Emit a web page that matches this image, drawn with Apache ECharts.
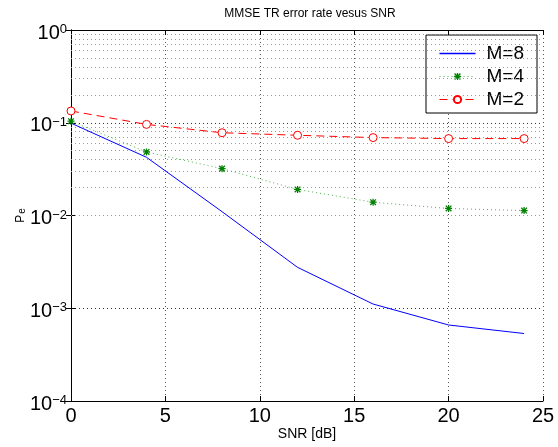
<!DOCTYPE html>
<html>
<head>
<meta charset="utf-8">
<script src="https://cdn.jsdelivr.net/npm/echarts@6/dist/echarts.min.js"></script>
<style>html,body{margin:0;padding:0;background:#fff;}#c{width:558px;height:447px;}</style>
</head>
<body>
<div id="c"></div>
<script>
const snr = [0, 4, 8, 12, 16, 20, 24];
const m8 = [0.099, 0.0424, 0.0110, 0.00276, 0.00111, 0.00066, 0.000534];
const m4 = [0.104, 0.0484, 0.032, 0.0191, 0.0139, 0.0119, 0.0113];
const m2 = [0.134, 0.096, 0.078, 0.0733, 0.0692, 0.0675, 0.0675];
const minorGrid = [2e-4,3e-4,4e-4,5e-4,6e-4,7e-4,8e-4,9e-4,
                   2e-3,3e-3,4e-3,5e-3,6e-3,7e-3,8e-3,9e-3,
                   2e-2,3e-2,4e-2,5e-2,6e-2,7e-2,8e-2,9e-2,
                   0.2,0.3,0.4,0.5,0.6,0.7,0.8,0.9];
const xTicks = [0, 5, 10, 15, 20, 25];

const FONT = 'Liberation Sans, Arial, sans-serif';
const star = 'path://M4.1,0L5.9,0L5.9,10L4.1,10Z M0,4.1L10,4.1L10,5.9L0,5.9Z M1.6,0.3L9.7,8.4L8.4,9.7L0.3,1.6Z M8.4,0.3L9.7,1.6L1.6,9.7L0.3,8.4Z';

const chart = echarts.init(document.getElementById('c'), null, {renderer: 'canvas'});
const pair = (ys) => snr.map((x, i) => [x, ys[i]]);

const option = {
  backgroundColor: '#fff',
  animation: false,
  textStyle: {fontFamily: FONT},
  title: {
    text: 'MMSE TR error rate vesus SNR',
    left: 305, top: 3, textAlign: 'center',
    textStyle: {fontSize: 12, fontWeight: 'normal', color: '#000', fontFamily: FONT}
  },
  grid: {left: 71, top: 30, right: 15, bottom: 46, containLabel: false, outerBoundsMode: 'none'},
  legend: {
    right: 21, top: 35, orient: 'vertical',
    backgroundColor: '#fff', borderColor: '#000', borderWidth: 1,
    padding: [9, 13, 4, 13], itemGap: 4, itemWidth: 36, itemHeight: 9,
    symbolKeepAspect: true,
    textStyle: {fontSize: 19, color: '#000', fontFamily: FONT, padding: [0, 0, 0, 6]},
    data: [
      {name: 'M=8', icon: 'path://M0,0L36,0L36,1.5L0,1.5Z',
       itemStyle: {color: '#0000ff', borderWidth: 0, opacity: 1}},
      {name: 'M=4', lineStyle: {width: 1}},
      {name: 'M=2', lineStyle: {width: 1}}
    ]
  },
  xAxis: [{
    type: 'value', min: 0, max: 25, interval: 5,
    name: 'SNR [dB]', nameLocation: 'middle', nameGap: 26, nameMoveOverlap: false,
    nameTextStyle: {fontSize: 14, color: '#000', fontFamily: FONT},
    axisLine: {lineStyle: {color: '#000', width: 1}},
    axisTick: {inside: true, length: 5, lineStyle: {color: '#000'}},
    axisLabel: {fontSize: 20, color: '#000', margin: 5, fontFamily: FONT,
      formatter: (v) => xTicks.includes(v) ? String(v) : ''},
    splitLine: {show: true, lineStyle: {color: '#555', type: [1, 3], width: 1}}
  }, {
    type: 'value', min: 0, max: 25, interval: 5, position: 'top',
    axisLine: {show: true, lineStyle: {color: '#000', width: 1}},
    axisTick: {inside: true, length: 5, lineStyle: {color: '#000'}},
    axisLabel: {show: false}, splitLine: {show: false}
  }],
  yAxis: [{
    type: 'log', logBase: 10, min: 1e-4, max: 1, splitNumber: 4,
    name: '{p|P}{e|e}', nameLocation: 'middle', nameGap: 44, nameRotate: 90, nameMoveOverlap: false,
    nameTextStyle: {
      rich: {
        p: {fontSize: 12, color: '#000', fontFamily: FONT, lineHeight: 12, verticalAlign: 'top'},
        e: {fontSize: 10, color: '#000', fontFamily: FONT, lineHeight: 10, verticalAlign: 'bottom', padding: [14, 0, 0, 1]}
      }
    },
    axisLine: {show: true, lineStyle: {color: '#000', width: 1}},
    axisTick: {inside: true, length: 5, lineStyle: {color: '#000'}},
    axisLabel: {
      margin: 4,
      padding: [6, 0, 0, 0],
      formatter: (v) => {
        const e = Math.round(Math.log10(v));
        return '{b|10}{s|' + (e < 0 ? '\u2212' + (-e) : e) + '}';
      },
      rich: {
        b: {fontSize: 20, color: '#000', fontFamily: FONT, lineHeight: 20, verticalAlign: 'bottom'},
        s: {fontSize: 13, color: '#000', fontFamily: FONT, lineHeight: 13, verticalAlign: 'top', padding: [0, 0, 15, 0]}
      }
    },
    splitLine: {show: true, lineStyle: {color: '#333', type: [1, 3], width: 1}}
  }, {
    type: 'log', logBase: 10, min: 1e-4, max: 1, splitNumber: 4, position: 'right',
    axisLine: {show: true, lineStyle: {color: '#000', width: 1}},
    axisTick: {inside: true, length: 5, lineStyle: {color: '#000'}},
    axisLabel: {show: false}, splitLine: {show: false}
  }],
  series: [{
    name: 'M=8', type: 'line', data: pair(m8), symbol: 'none', showSymbol: false,
    color: '#0000ff', lineStyle: {color: '#0000ff', width: 1}, z: 5,
    markLine: {
      silent: true, symbol: ['none', 'none'], animation: false,
      label: {show: false},
      lineStyle: {color: '#999', type: [1, 3], width: 1},
      data: minorGrid.map(v => ({yAxis: v}))
    }
  }, {
    name: 'M=4', type: 'line', data: pair(m4), symbol: star, symbolSize: 7,
    color: '#008000',
    itemStyle: {color: '#008000'},
    lineStyle: {color: '#4caf4c', width: 1, type: [1, 3]}, z: 6
  }, {
    name: 'M=2', type: 'line', data: pair(m2), symbol: 'circle', symbolSize: 8,
    color: '#ff0000',
    itemStyle: {color: '#fff', borderColor: '#ff0000', borderWidth: 1},
    lineStyle: {color: '#ff0000', width: 1, type: [8, 5]}, z: 7
  }]
};
chart.setOption(option);
</script>
</body>
</html>
